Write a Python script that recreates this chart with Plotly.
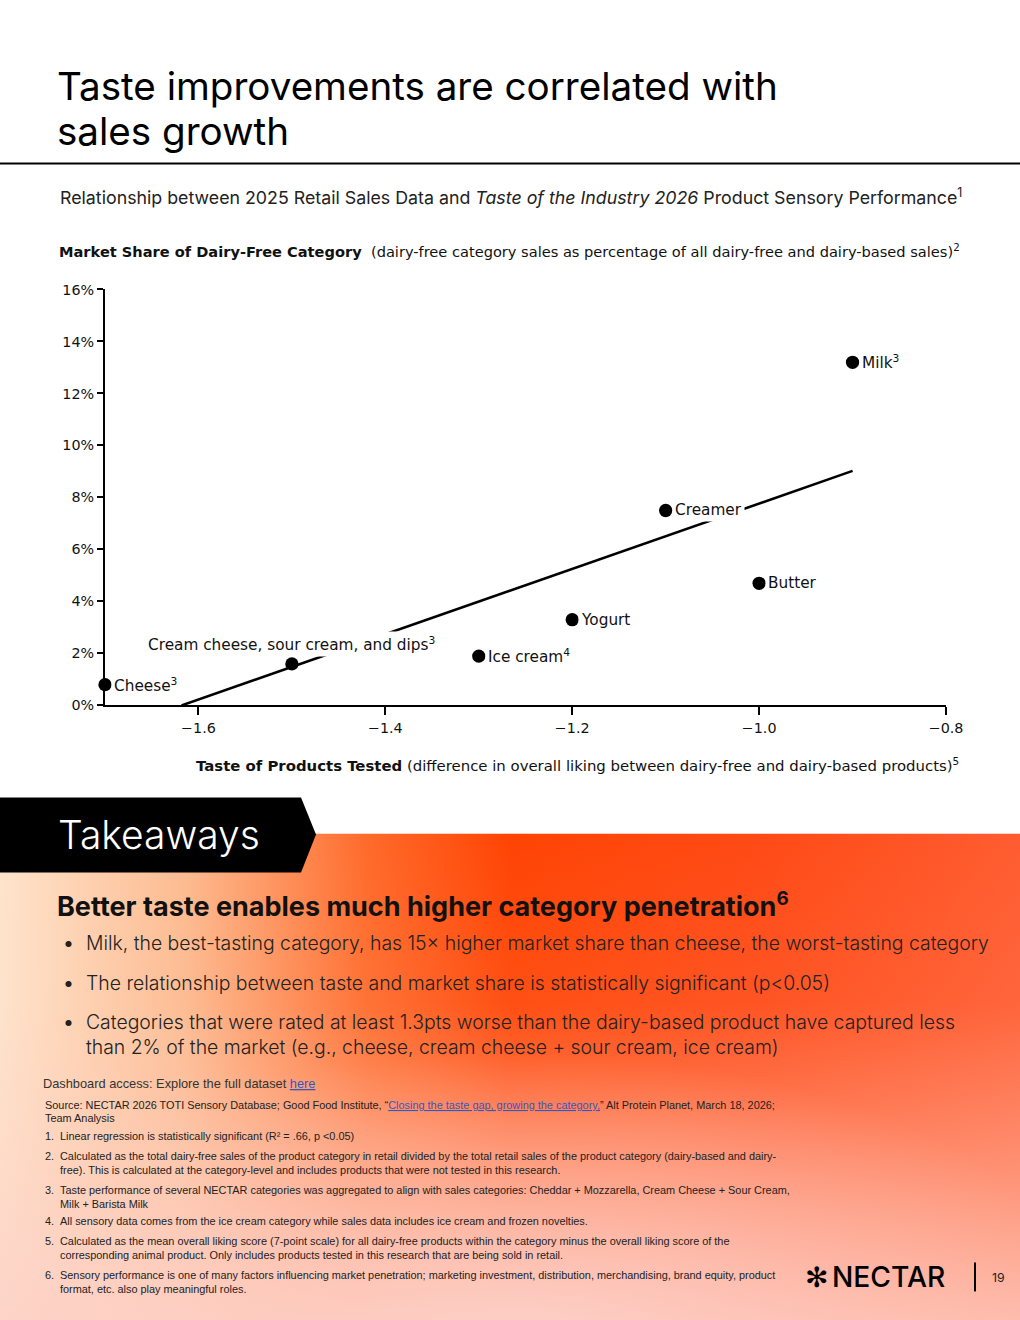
import base64
import numpy as np
import plotly.graph_objects as go

# ---------------- data ----------------
categories = ["Cheese", "Cream cheese, sour cream, and dips", "Ice cream", "Yogurt",
              "Creamer", "Butter", "Milk"]
footnote_marks = ["3", "3", "4", "", "", "", "3"]
taste_diff = [-1.7, -1.5, -1.3, -1.2, -1.1, -1.0, -0.9]
market_share = [0.8, 1.6, 1.9, 3.3, 7.5, 4.7, 13.2]
x_ticks = [-1.6, -1.4, -1.2, -1.0, -0.8]
y_ticks = [0, 2, 4, 6, 8, 10, 12, 14, 16]
y_tick_labels = [f"{v}%" for v in y_ticks]

# figure size (css px) chosen so the photographed page is filled
W, H = 1037, 1329
SX, SY, OY = 0.9836, 0.988, 7.5   # page-to-picture mapping


def px(r):
    """picture x (px) -> paper fraction"""
    return (r / SX) / W


def py(r):
    """picture y (px) -> paper fraction"""
    return 1 - ((r - OY) / SY) / H


# regression line from the data
slope, intercept = np.polyfit(taste_diff, market_share, 1)
x_start = -intercept / slope
x_end = max(taste_diff)
trend_x = [x_start, x_end]
trend_y = [slope * x_start + intercept, slope * x_end + intercept]

CH = "DejaVu Sans"
SANS = "Inter"
FN = "Liberation Sans"
LBL = 15.3

fig = go.Figure()
fig.add_trace(go.Scatter(x=trend_x, y=trend_y, mode="lines",
                         line=dict(color="black", width=2.5),
                         hoverinfo="skip", showlegend=False))
fig.add_trace(go.Scatter(x=taste_diff, y=market_share, mode="markers",
                         marker=dict(color="black", size=13.3),
                         cliponaxis=False, showlegend=False))

annotations = []
for name, mark, xv, yv in zip(categories, footnote_marks, taste_diff, market_share):
    label = name + (f"<sup>{mark}</sup>" if mark else "")
    if name.startswith("Cream cheese"):
        annotations.append(dict(x=xv, y=yv, xref="x", yref="y", text=label,
                                showarrow=False, xanchor="center", yanchor="bottom",
                                yshift=7, bgcolor="white", borderpad=2,
                                font=dict(family=CH, size=LBL, color="#111")))
    else:
        annotations.append(dict(x=xv, y=yv, xref="x", yref="y", text=label,
                                showarrow=False, xanchor="left", yanchor="middle",
                                xshift=6, bgcolor="white", borderpad=2,
                                font=dict(family=CH, size=LBL, color="#111")))


def txt(x, y, text, font, xanchor="left"):
    return dict(x=px(x - 2), y=py(y), xref="paper", yref="paper", xanchor=xanchor,
                yanchor="middle", text=text, showarrow=False, font=font)


annotations += [
    txt(57, 86, "Taste improvements are correlated with",
        dict(family=SANS, size=38.6, color="black")),
    txt(57, 131, "sales growth", dict(family=SANS, size=38.6, color="black")),
    txt(60, 196, "Relationship between 2025 Retail Sales Data and <i>Taste of the Industry 2026</i> "
                 "Product Sensory Performance<sup>1</sup>",
        dict(family=SANS, size=17.8, color="#222")),
    txt(59, 251, "<b>Market Share of Dairy-Free Category</b>  (dairy-free category sales as "
                 "percentage of all dairy-free and dairy-based sales)<sup>2</sup>",
        dict(family=CH, size=14.6, color="#111")),
    txt(963, 765, "<b>Taste of Products Tested</b> (difference in overall liking between "
                  "dairy-free and dairy-based products)<sup>5</sup>",
        dict(family=CH, size=14.9, color="#111"), xanchor="right"),
    txt(58, 834, "Takeaways", dict(family=SANS, size=39, color="white", weight=300)),
    txt(57, 905, "<b>Better taste enables much higher category penetration<sup>6</sup></b>",
        dict(family=SANS, size=27, color="#111")),
]

bullets = [
    (943, "Milk, the best-tasting category, has 15× higher market share than cheese, the worst-tasting category"),
    (983, "The relationship between taste and market share is statistically significant (p<0.05)"),
    (1022, "Categories that were rated at least 1.3pts worse than the dairy-based product have captured less"),
]
cont = (1047, "than 2% of the market (e.g., cheese, cream cheese + sour cream, ice cream)")
BF = dict(family=SANS, size=19.4, color="#222", weight=300)
for yv, t in bullets:
    annotations.append(txt(63, yv, "•", dict(family=SANS, size=19.4, color="#222")))
    annotations.append(txt(86, yv, t, BF))
annotations.append(txt(86, cont[0], cont[1], BF))

LINK = "<span style='color:#3358c4;text-decoration:underline'>{}</span>"
annotations.append(txt(43, 1083, "Dashboard access: Explore the full dataset " + LINK.format("here"),
                       dict(family=FN, size=12.8, color="#333")))

foot_lines = [
    (1105, 45, "Source: NECTAR 2026 TOTI Sensory Database; Good Food Institute, “"
     + LINK.format("Closing the taste gap, growing the category,")
     + "” Alt Protein Planet, March 18, 2026;"),
    (1118, 45, "Team Analysis"),
    (1136, 45, "1."),
    (1136, 60, "Linear regression is statistically significant (R² = .66, p <0.05)"),
    (1156, 45, "2."),
    (1156, 60, "Calculated as the total dairy-free sales of the product category in retail divided by "
     "the total retail sales of the product category (dairy-based and dairy-"),
    (1170, 60, "free). This is calculated at the category-level and includes products that were not "
     "tested in this research."),
    (1190, 45, "3."),
    (1190, 60, "Taste performance of several NECTAR categories was aggregated to align with sales "
     "categories: Cheddar + Mozzarella, Cream Cheese + Sour Cream,"),
    (1204, 60, "Milk + Barista Milk"),
    (1221, 45, "4."),
    (1221, 60, "All sensory data comes from the ice cream category while sales data includes ice "
     "cream and frozen novelties."),
    (1241, 45, "5."),
    (1241, 60, "Calculated as the mean overall liking score (7-point scale) for all dairy-free "
     "products within the category minus the overall liking score of the"),
    (1255, 60, "corresponding animal product. Only includes products tested in this research that "
     "are being sold in retail."),
    (1275, 45, "6."),
    (1275, 60, "Sensory performance is one of many factors influencing market penetration; marketing "
     "investment, distribution, merchandising, brand equity, product"),
    (1289, 60, "format, etc. also play meaningful roles."),
]
for yv, xv, t in foot_lines:
    annotations.append(txt(xv, yv, t, dict(family=FN, size=10.9, color="#222")))

# Logo
annotations += [
    txt(805, 1277, "✻", dict(family="DejaVu Sans", size=28, color="black")),
    txt(832, 1277, "NECTAR", dict(family=SANS, size=28.2, color="black", weight=500)),
    txt(992, 1277, "19", dict(family=SANS, size=12.3, color="#222")),
]

# gradient background for takeaways panel
svg = """<svg xmlns="http://www.w3.org/2000/svg" width="1020" height="487" viewBox="0 0 1020 487" preserveAspectRatio="none">
<defs>
<linearGradient id="h" x1="0" y1="0" x2="1" y2="0">
<stop offset="0" stop-color="#fee4cc"/>
<stop offset="0.18" stop-color="#fdbb90"/>
<stop offset="0.36" stop-color="#ff6a2a"/>
<stop offset="0.5" stop-color="#ff4404"/>
<stop offset="0.75" stop-color="#ff4a16"/>
<stop offset="1" stop-color="#ff5c30"/>
</linearGradient>
<linearGradient id="v" x1="0" y1="0" x2="0" y2="1">
<stop offset="0" stop-color="#fdd2c6" stop-opacity="0"/>
<stop offset="0.35" stop-color="#fdd2c6" stop-opacity="0.08"/>
<stop offset="1" stop-color="#fdd0c6" stop-opacity="0.8"/>
</linearGradient>
<radialGradient id="r" cx="0.5" cy="1.05" r="0.6">
<stop offset="0" stop-color="#fdd3cc" stop-opacity="0.9"/>
<stop offset="1" stop-color="#fdd3cc" stop-opacity="0"/>
</radialGradient>
</defs>
<rect width="1020" height="487" fill="url(#h)"/>
<rect width="1020" height="487" fill="url(#v)"/>
<rect width="1020" height="487" fill="url(#r)"/>
</svg>"""
svg_uri = "data:image/svg+xml;base64," + base64.b64encode(svg.encode()).decode()

shapes = [
    dict(type="line", xref="paper", yref="paper", x0=0, x1=1, y0=py(163), y1=py(163),
         line=dict(color="black", width=2)),
    dict(type="path", xref="paper", yref="paper",
         path=f"M {px(-2)},{py(797)} L {px(301)},{py(797)} L {px(316)},{py(834)} "
              f"L {px(301)},{py(872)} L {px(-2)},{py(872)} Z",
         fillcolor="black", line=dict(width=0)),
    dict(type="line", xref="paper", yref="paper", x0=px(975), x1=px(975),
         y0=py(1262), y1=py(1291), line=dict(color="black", width=2)),
]

fig.update_layout(
    width=W, height=H, autosize=False,
    margin=dict(l=0, r=0, t=0, b=0),
    paper_bgcolor="white", plot_bgcolor="white",
    showlegend=False,
    xaxis=dict(domain=[px(105), px(946)], range=[-1.7, -0.8], tickvals=x_ticks,
               tickformat=".1f", showgrid=False, zeroline=False, showline=True,
               linecolor="black", linewidth=2, ticks="outside", ticklen=8, tickwidth=2,
               tickcolor="black", tickfont=dict(family=CH, size=14.3, color="#111")),
    yaxis=dict(domain=[py(705), py(289)], range=[0, 16], tickmode="array",
               tickvals=y_ticks, ticktext=y_tick_labels,
               showgrid=False, zeroline=False, showline=True, linecolor="black", linewidth=2,
               ticks="outside", ticklen=6, tickwidth=2, tickcolor="black",
               tickfont=dict(family=CH, size=14.3, color="#111")),
    annotations=annotations,
    shapes=shapes,
    images=[dict(source=svg_uri, xref="paper", yref="paper", x=0, y=py(833),
                 sizex=1, sizey=py(833) - 0, sizing="stretch", xanchor="left", yanchor="top",
                 layer="below")],
)

# remove the default 8px page margin synchronously (before the page finishes loading)
page_js = ("}); document.body.style.margin='0'; "
           "document.documentElement.style.overflow='hidden'; (function(){")
fig.write_html("out.html", config={"displayModeBar": False}, post_script=page_js)
